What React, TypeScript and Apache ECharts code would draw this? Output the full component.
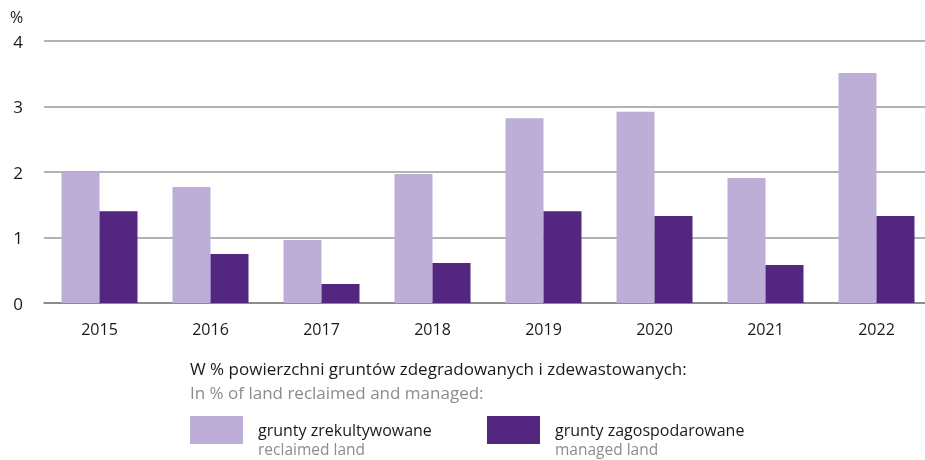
import React, { useEffect, useRef } from "react";
import * as echarts from "echarts";

const years = ["2015", "2016", "2017", "2018", "2019", "2020", "2021", "2022"];
const reclaimed = [2.0, 1.77, 0.96, 1.97, 2.82, 2.92, 1.91, 3.51];
const managed = [1.4, 0.75, 0.29, 0.61, 1.4, 1.33, 0.58, 1.33];
const seriesNames = ["grunty zrekultywowane", "grunty zagospodarowane"];
const seriesNamesEn = ["reclaimed land", "managed land"];
const titlePl = "W % powierzchni gruntów zdegradowanych i zdewastowanych:";
const titleEn = "In % of land reclaimed and managed:";
const unitLabel = "%";
const yTicks = [0, 1, 2, 3, 4];

const LIGHT = "#bdaed7";
const DARK = "#532680";
const FONT = "'Open Sans', 'Noto Sans', sans-serif";

export default function App() {
  const ref = useRef<HTMLDivElement>(null);
  useEffect(() => {
    if (!ref.current) return;
    const chart = echarts.init(ref.current, null, { renderer: "svg" });
    chart.setOption({
      animation: false,
      textStyle: { fontFamily: FONT },
      grid: { left: 44, top: 41, width: 888, height: 262, containLabel: false, outerBoundsMode: "none" },
      xAxis: {
        type: "category",
        data: years,
        axisTick: { show: false },
        axisLine: { show: true, lineStyle: { color: "#808080", width: 1.5 } },
        axisLabel: { color: "#1a1a1a", fontSize: 16, margin: 18, fontFamily: FONT },
      },
      yAxis: {
        type: "value",
        min: yTicks[0],
        max: yTicks[yTicks.length - 1],
        interval: 1,
        axisLine: { show: false },
        axisTick: { show: false },
        axisLabel: { color: "#1a1a1a", fontSize: 17, margin: 21, fontFamily: FONT },
        splitLine: { show: true, lineStyle: { color: "#999999", width: 1.5 } },
      },
      legend: [
        {
          data: [seriesNames[0]],
          left: 190,
          top: 416,
          padding: 0,
          itemWidth: 53,
          itemHeight: 28,
          icon: "rect",
          itemGap: 0,
          textStyle: { color: "#1a1a1a", fontSize: 16, padding: [0, 0, 0, 10], fontFamily: FONT },
          selectedMode: false,
        },
        {
          data: [seriesNames[1]],
          left: 487,
          top: 416,
          padding: 0,
          itemWidth: 53,
          itemHeight: 28,
          icon: "rect",
          itemGap: 0,
          textStyle: { color: "#1a1a1a", fontSize: 16, padding: [0, 0, 0, 10], fontFamily: FONT },
          selectedMode: false,
        },
      ],
      graphic: [
        {
          type: "text",
          left: 10,
          top: 9,
          style: { text: unitLabel, fill: "#1a1a1a", fontSize: 16, fontFamily: FONT },
        },
        {
          type: "text",
          left: 190,
          top: 360,
          style: { text: titlePl, fill: "#1a1a1a", fontSize: 17, fontFamily: FONT },
        },
        {
          type: "text",
          left: 190,
          top: 384,
          style: { text: titleEn, fill: "#8c8c8c", fontSize: 17, fontFamily: FONT },
        },
        {
          type: "text",
          left: 258,
          top: 441,
          style: { text: seriesNamesEn[0], fill: "#8c8c8c", fontSize: 15.5, fontFamily: FONT },
        },
        {
          type: "text",
          left: 555,
          top: 441,
          style: { text: seriesNamesEn[1], fill: "#8c8c8c", fontSize: 15.5, fontFamily: FONT },
        },
      ],
      series: [
        {
          name: seriesNames[0],
          type: "bar",
          data: reclaimed,
          itemStyle: { color: LIGHT },
          barWidth: 38,
          barGap: "0%",
        },
        {
          name: seriesNames[1],
          type: "bar",
          data: managed,
          itemStyle: { color: DARK },
          barWidth: 38,
          barGap: "0%",
        },
      ],
    });
    return () => chart.dispose();
  }, []);
  return (
    <div
      ref={ref}
      style={{ position: "fixed", left: 0, top: 0, width: 925, height: 460 }}
    />
  );
}
